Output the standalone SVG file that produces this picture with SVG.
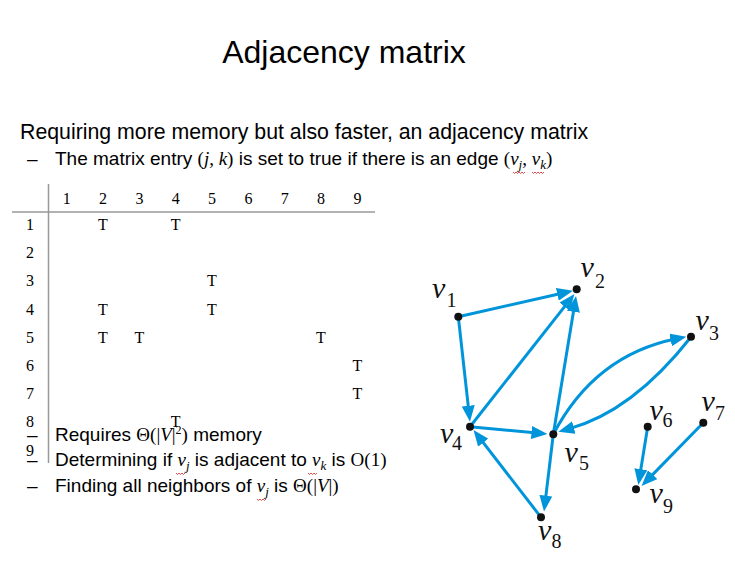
<svg xmlns="http://www.w3.org/2000/svg" width="735" height="561" viewBox="0 0 735 561">
<style>
.sans{font-family:"Liberation Sans",Arial,sans-serif;fill:#000}
.ser{font-family:"Liberation Serif","Times New Roman",serif;fill:#000}
.it{font-style:italic}
.m{font-family:"Liberation Serif","Times New Roman",serif;font-size:16px;text-anchor:middle;fill:#000}
.rule{stroke:#999;stroke-width:1.5;fill:none}
.edge{stroke:#0095db;stroke-width:3;fill:none;marker-end:url(#ah)}
.dot{fill:#111}
.lv{font-family:"Liberation Serif","Times New Roman",serif;font-style:italic;font-size:30px;fill:#111}
.ls{font-family:"Liberation Serif","Times New Roman",serif;font-size:20px;fill:#111}
.sq{stroke:#e02020;stroke-width:0.8;fill:none}
</style>
<defs>
<marker id="ah" markerUnits="userSpaceOnUse" markerWidth="16" markerHeight="13" viewBox="0 0 16 13" refX="6" refY="6.5" orient="auto">
<path d="M0,0 L16,6.5 L0,13 Z" fill="#0095db"/>
</marker>
</defs>
<rect width="735" height="561" fill="#fff"/>

<text class="sans" x="344" y="63" font-size="32" text-anchor="middle">Adjacency matrix</text>
<text class="sans" x="20" y="139" font-size="21.3">Requiring more memory but also faster, an adjacency matrix</text>
<text class="sans" x="27" y="165" font-size="19">–</text>
<text class="sans" x="55" y="165" font-size="19">The matrix entry <tspan class="ser">(</tspan><tspan class="ser it">j</tspan><tspan class="ser">, </tspan><tspan class="ser it">k</tspan><tspan class="ser">)</tspan> is set to true if there is an edge <tspan class="ser">(</tspan><tspan class="ser it">v</tspan><tspan class="ser it" font-size="13" dy="4">j</tspan><tspan class="ser" dy="-4">, </tspan><tspan class="ser it">v</tspan><tspan class="ser it" font-size="13" dy="4">k</tspan><tspan class="ser" dy="-4">)</tspan></text>
<path class="sq" d="M513,172 l1.5,1.5 l1.5,-1.5 l1.5,1.5 l1.5,-1.5 l1.5,1.5 l1.5,-1.5 l1.5,1.5 l1.5,-1.5 M532,172 l1.5,1.5 l1.5,-1.5 l1.5,1.5 l1.5,-1.5 l1.5,1.5 l1.5,-1.5 l1.5,1.5 l1.5,-1.5"/>

<!-- matrix -->
<line class="rule" x1="48.5" y1="184" x2="48.5" y2="463"/>
<line class="rule" x1="12" y1="212" x2="375" y2="212"/>
<g class="m">
<text x="66.7" y="204">1</text><text x="103" y="204">2</text><text x="139.4" y="204">3</text><text x="175.7" y="204">4</text><text x="212" y="204">5</text><text x="248.4" y="204">6</text><text x="284.7" y="204">7</text><text x="321" y="204">8</text><text x="357.4" y="204">9</text>
<text x="30" y="230">1</text><text x="30" y="258.2">2</text><text x="30" y="286.4">3</text><text x="30" y="314.6">4</text><text x="30" y="342.8">5</text><text x="30" y="371">6</text><text x="30" y="399.2">7</text><text x="30" y="427.4">8</text><text x="30" y="455.6">9</text>
<text x="103" y="230">T</text><text x="175.7" y="230">T</text>
<text x="212" y="286.4">T</text>
<text x="103" y="314.6">T</text><text x="212" y="314.6">T</text>
<text x="103" y="342.8">T</text><text x="139.4" y="342.8">T</text><text x="321" y="342.8">T</text>
<text x="357.4" y="371">T</text>
<text x="357.4" y="399.2">T</text>
<text x="175.7" y="427.4">T</text>
</g>

<!-- bullets -->
<g class="sans" font-size="19">
<text x="27" y="441">–</text>
<text x="27" y="466">–</text>
<text x="27" y="492">–</text>
<text x="55" y="441">Requires <tspan class="ser">Θ(|</tspan><tspan class="ser it">V</tspan><tspan class="ser">|</tspan><tspan class="ser" font-size="12" dy="-7">2</tspan><tspan class="ser" dy="7">)</tspan> memory</text>
<text x="55" y="466">Determining if <tspan class="ser it">v</tspan><tspan class="ser it" font-size="13" dy="4">j</tspan><tspan dy="-4"> is adjacent to </tspan><tspan class="ser it">v</tspan><tspan class="ser it" font-size="13" dy="4">k</tspan><tspan dy="-4"> is </tspan><tspan class="ser">O(1)</tspan></text>
<text x="55" y="492">Finding all neighbors of <tspan class="ser it">v</tspan><tspan class="ser it" font-size="13" dy="4">j</tspan><tspan dy="-4"> is </tspan><tspan class="ser">Θ(|</tspan><tspan class="ser it">V</tspan><tspan class="ser">|)</tspan></text>
</g>
<path class="sq" d="M176,473 l1.5,1.5 l1.5,-1.5 l1.5,1.5 l1.5,-1.5 l1.5,1.5 l1.5,-1.5 M308,473 l1.5,1.5 l1.5,-1.5 l1.5,1.5 l1.5,-1.5 l1.5,1.5 l1.5,-1.5 M257,499 l1.5,1.5 l1.5,-1.5 l1.5,1.5 l1.5,-1.5 l1.5,1.5 l1.5,-1.5"/>

<!-- graph connectors -->
<g id="connectors">
<line class="edge" x1="458.3" y1="316.7" x2="563.2" y2="293"/>
<line class="edge" x1="458.3" y1="316.7" x2="468.9" y2="411.8"/>
<line class="edge" x1="470" y1="426.7" x2="568.3" y2="301.9"/>
<line class="edge" x1="553.3" y1="434.3" x2="574.4" y2="305.9"/>
<line class="edge" x1="470" y1="426.7" x2="537.5" y2="433.1"/>
<path class="edge" d="M553.3,434.3 Q595,355 676.5,338.8"/>
<path class="edge" d="M691,337 Q632,412 568,429.1"/>
<line class="edge" x1="553.3" y1="434.3" x2="545.2" y2="501.6"/>
<line class="edge" x1="541" y1="517.3" x2="479.6" y2="437.9"/>
<line class="edge" x1="647.7" y1="426.7" x2="639.9" y2="475.1"/>
<line class="edge" x1="703.3" y1="422.7" x2="648.5" y2="478.9"/>
</g>

<!-- graph nodes -->
<g id="v1"><circle class="dot" cx="458.3" cy="316.7" r="4"/><text class="lv" x="432" y="298.3">v</text><text class="ls" x="446.5" y="306.7">1</text></g>
<g id="v2"><circle class="dot" cx="576.7" cy="289.3" r="4"/><text class="lv" x="580.5" y="277.3">v</text><text class="ls" x="595" y="288.3">2</text></g>
<g id="v3"><circle class="dot" cx="691" cy="336.7" r="4"/><text class="lv" x="695.5" y="330">v</text><text class="ls" x="709" y="340">3</text></g>
<g id="v4"><circle class="dot" cx="470" cy="426.7" r="4"/><text class="lv" x="440" y="443.3">v</text><text class="ls" x="452" y="450">4</text></g>
<g id="v5"><circle class="dot" cx="553.3" cy="434.3" r="4"/><text class="lv" x="564.5" y="461.7">v</text><text class="ls" x="579" y="470">5</text></g>
<g id="v6"><circle class="dot" cx="647.7" cy="426.7" r="4"/><text class="lv" x="649.5" y="420">v</text><text class="ls" x="662.5" y="426.7">6</text></g>
<g id="v7"><circle class="dot" cx="703.3" cy="422.7" r="4"/><text class="lv" x="701.5" y="410.7">v</text><text class="ls" x="715" y="420">7</text></g>
<g id="v8"><circle class="dot" cx="541" cy="517.3" r="4"/><text class="lv" x="538" y="540">v</text><text class="ls" x="551.5" y="548.3">8</text></g>
<g id="v9"><circle class="dot" cx="636" cy="489.3" r="4"/><text class="lv" x="649.5" y="503.3">v</text><text class="ls" x="663" y="513.3">9</text></g>
</svg>
